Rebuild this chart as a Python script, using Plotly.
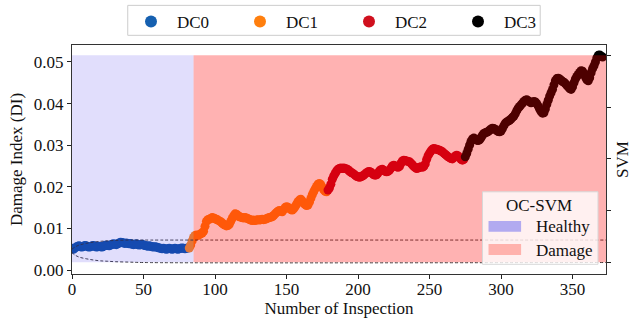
import plotly.graph_objects as go

# ---------------- data ----------------
dc0_di = [0.0052,0.0050,0.0053,0.0055,0.0057,0.0058,0.0056,0.0055,0.0057,0.0059,
          0.0058,0.0056,0.0055,0.0056,0.0058,0.0059,0.0057,0.0055,0.0056,0.0057,
          0.0056,0.0055,0.0057,0.0059,0.0060,0.0059,0.0058,0.0060,0.0062,0.0063,
          0.0062,0.0061,0.0063,0.0065,0.0067,0.0066,0.0065,0.0064,0.0065,0.0064,
          0.0063,0.0064,0.0062,0.0061,0.0062,0.0063,0.0061,0.0060,0.0061,0.0062,
          0.0060,0.0059,0.0058,0.0057,0.0058,0.0057,0.0056,0.0055,0.0056,0.0055,
          0.0054,0.0053,0.0052,0.0051,0.0052,0.0051,0.0050,0.0051,0.0052,0.0051,
          0.0050,0.0051,0.0052,0.0051,0.0050,0.0051,0.0052,0.0053,0.0052,0.0051,
          0.0052,0.0053]
dc1_di = [0.0053,0.0060,0.0070,0.0078,0.0083,0.0084,0.0083,0.0085,0.0087,0.0089,
          0.0093,0.0105,0.0117,0.0121,0.0122,0.0124,0.0126,0.0125,0.0123,0.0122,
          0.0120,0.0118,0.0116,0.0113,0.0110,0.0108,0.0106,0.0107,0.0110,0.0117,
          0.0124,0.0130,0.0135,0.0134,0.0131,0.0128,0.0127,0.0126,0.0125,0.0126,
          0.0125,0.0123,0.0122,0.0120,0.0119,0.0120,0.0119,0.0120,0.0121,0.0120,
          0.0121,0.0122,0.0121,0.0122,0.0123,0.0125,0.0126,0.0127,0.0128,0.0131,
          0.0135,0.0138,0.0141,0.0143,0.0142,0.0140,0.0145,0.0150,0.0152,0.0151,
          0.0148,0.0145,0.0144,0.0147,0.0152,0.0158,0.0164,0.0168,0.0170,0.0166,
          0.0161,0.0157,0.0155,0.0156,0.0163,0.0172,0.0181,0.0188,0.0195,0.0201,
          0.0206,0.0208,0.0205,0.0199,0.0193,0.0189,0.0188]
dc2_di = [0.0192,0.0197,0.0206,0.0218,0.0226,0.0232,0.0238,0.0242,0.0244,0.0245,
          0.0244,0.0245,0.0244,0.0243,0.0241,0.0238,0.0235,0.0233,0.0231,0.0228,
          0.0225,0.0224,0.0223,0.0224,0.0226,0.0228,0.0231,0.0234,0.0236,0.0237,
          0.0235,0.0232,0.0229,0.0228,0.0229,0.0233,0.0238,0.0241,0.0242,0.0240,
          0.0237,0.0236,0.0237,0.0240,0.0245,0.0250,0.0252,0.0250,0.0248,0.0247,
          0.0249,0.0256,0.0262,0.0264,0.0263,0.0262,0.0261,0.0260,0.0257,0.0253,
          0.0249,0.0246,0.0244,0.0245,0.0247,0.0248,0.0247,0.0249,0.0255,0.0266,
          0.0275,0.0281,0.0286,0.0290,0.0292,0.0291,0.0290,0.0289,0.0288,0.0286,
          0.0284,0.0281,0.0278,0.0275,0.0272,0.0270,0.0268,0.0267,0.0270,0.0274,
          0.0276,0.0274,0.0270,0.0266,0.0264,0.0266]
dc3_di = [0.0272,0.0280,0.0290,0.0300,0.0309,0.0315,0.0317,0.0315,0.0312,0.0311,
          0.0313,0.0318,0.0324,0.0328,0.0330,0.0331,0.0333,0.0336,0.0339,0.0341,
          0.0340,0.0338,0.0335,0.0333,0.0332,0.0334,0.0340,0.0347,0.0353,0.0356,
          0.0358,0.0360,0.0363,0.0367,0.0370,0.0376,0.0383,0.0389,0.0393,0.0397,
          0.0401,0.0405,0.0408,0.0409,0.0407,0.0404,0.0402,0.0403,0.0405,0.0404,
          0.0400,0.0394,0.0387,0.0381,0.0377,0.0378,0.0387,0.0398,0.0408,0.0418,
          0.0426,0.0434,0.0445,0.0455,0.0460,0.0461,0.0459,0.0456,0.0453,0.0451,
          0.0448,0.0444,0.0440,0.0436,0.0434,0.0440,0.0450,0.0459,0.0465,0.0470,
          0.0475,0.0479,0.0478,0.0472,0.0464,0.0457,0.0455,0.0462,0.0474,0.0484,
          0.0491,0.0500,0.0510,0.0516,0.0517,0.0514,0.0512]

series_names = ["DC0", "DC1", "DC2", "DC3"]
series_values = [dc0_di, dc1_di, dc2_di, dc3_di]

# OC-SVM decision boundary (DI vs inspection)
boundary_x = [0, 2, 5, 10, 15, 20, 25, 30, 40, 50, 373.4]
boundary_upper = [0.0050, 0.0055, 0.0060, 0.0064, 0.0067, 0.0069, 0.0070, 0.0071, 0.0072, 0.0072, 0.0072]
boundary_lower = [0.0042, 0.0036, 0.0031, 0.0027, 0.0024, 0.0022, 0.0021, 0.0020, 0.0019, 0.0018, 0.0018]

healthy_end = 85          # OC-SVM healthy region ends here
x_max = 373.4
svm_ticks = [0, 1, 2, 3, 4]
y_ticks = [0.00, 0.01, 0.02, 0.03, 0.04, 0.05]
x_ticks = [0, 50, 100, 150, 200, 250, 300, 350]

# ---------------- style ----------------
FONT = "Liberation Serif"
legend_colors = ["#1660b0", "#ff7f0e", "#d0101e", "#000000"]
plot_colors = ["#0048a0", "#ff7f0e", "#c40018", "#000000"]
healthy_overlay = "rgba(105,90,240,0.2)"
damage_overlay = "rgba(255,0,0,0.3)"

fig = go.Figure()

start = 0
for name, vals, pc, lc in zip(series_names, series_values, plot_colors, legend_colors):
    xs = list(range(start, start + len(vals)))
    start += len(vals)
    fig.add_trace(go.Scatter(x=xs, y=vals, mode="markers",
                             marker=dict(color=pc, size=9, line=dict(width=0)),
                             showlegend=False, hoverinfo="skip"))
    fig.add_trace(go.Scatter(x=[None], y=[None], mode="markers", name=name,
                             marker=dict(color=lc, size=9), showlegend=True))

for yb in (boundary_upper, boundary_lower):
    fig.add_trace(go.Scatter(x=boundary_x, y=yb, mode="lines", line_shape="spline",
                             line=dict(color="#222222", width=0.9, dash="3px,2px"),
                             showlegend=False, hoverinfo="skip"))

# dummy trace to activate y2
fig.add_trace(go.Scatter(x=[None], y=[None], yaxis="y2", showlegend=False))

# shading (drawn above points, translucent like the reference)
fig.add_shape(type="rect", xref="x", yref="y2", x0=0, x1=healthy_end, y0=0, y1=4,
              fillcolor=healthy_overlay, line_width=0, layer="above")
fig.add_shape(type="rect", xref="x", yref="y2", x0=healthy_end, x1=x_max, y0=0, y1=4,
              fillcolor=damage_overlay, line_width=0, layer="above")

# frame of the top legend
fig.add_shape(type="rect", xref="paper", yref="paper", x0=0.1044, x1=0.8768, y0=1.0423, y1=1.1731,
              fillcolor="rgba(0,0,0,0)", line=dict(color="#cccccc", width=1), layer="above")

# OC-SVM legend box (drawn manually)
fig.add_shape(type="rect", xref="paper", yref="paper", x0=0.7687, x1=0.985, y0=0.0423, y1=0.3589,
              fillcolor="rgba(255,255,255,0.8)", line=dict(color="#d8d8d8", width=1), layer="above")
fig.add_shape(type="rect", xref="paper", yref="paper", x0=0.780, x1=0.841, y0=0.1845, y1=0.2311,
              fillcolor="#b2aaf0", line_width=0, layer="above")
fig.add_shape(type="rect", xref="paper", yref="paper", x0=0.780, x1=0.841, y0=0.0829, y1=0.1308,
              fillcolor="#ffb2ad", line_width=0, layer="above")
fig.add_annotation(xref="paper", yref="paper", x=0.8736, y=0.3009, text="OC-SVM", showarrow=False,
                   font=dict(family=FONT, size=17, color="#111"), xanchor="center", yanchor="middle")
fig.add_annotation(xref="paper", yref="paper", x=0.8643, y=0.2093, text="Healthy", showarrow=False,
                   font=dict(family=FONT, size=17, color="#111"), xanchor="left", yanchor="middle")
fig.add_annotation(xref="paper", yref="paper", x=0.8643, y=0.1047, text="Damage", showarrow=False,
                   font=dict(family=FONT, size=17, color="#111"), xanchor="left", yanchor="middle")

axis_common = dict(showgrid=False, zeroline=False, ticks="outside", ticklen=4, tickwidth=1,
                   tickcolor="#222", linecolor="#333", linewidth=1, automargin=False,
                   tickfont=dict(family=FONT, size=17, color="#111"))

fig.update_layout(
    width=632, height=324,
    margin=dict(l=72, r=26, t=45, b=50, autoexpand=False),
    paper_bgcolor="white", plot_bgcolor="white",
    font=dict(family=FONT, size=17, color="#111"),
    xaxis=dict(range=[0, x_max], tickvals=x_ticks, showline=True, mirror=True,
               ticklabelstandoff=-4,
               title=dict(text="Number of Inspection", font=dict(family=FONT, size=17), standoff=1),
               **axis_common),
    yaxis=dict(range=[-0.00096, 0.05408], tickvals=y_ticks, tickformat=".2f",
               showline=True, mirror=True,
               title=dict(text="Damage Index (DI)", font=dict(family=FONT, size=17), standoff=6),
               **axis_common),
    yaxis2=dict(overlaying="y", side="right", range=[-0.2258, 4.1987], tickvals=svm_ticks,
                showticklabels=False, showline=True,
                title=dict(text="SVM", font=dict(family=FONT, size=17), standoff=6),
                **axis_common),
    legend=dict(orientation="h", xref="container", yref="container", x=125/632, xanchor="left",
                y=1 - 4/324, yanchor="top", borderwidth=0,
                bgcolor="rgba(0,0,0,0)", font=dict(family=FONT, size=17, color="#111"),
                itemwidth=42, entrywidth=52, entrywidthmode="pixels", itemsizing="constant"),
)

fig.write_html("out.html", config={"displayModeBar": False},
               post_script="document.body.style.margin='0';document.body.style.padding='0';"
                           "document.documentElement.style.overflow='hidden';")
